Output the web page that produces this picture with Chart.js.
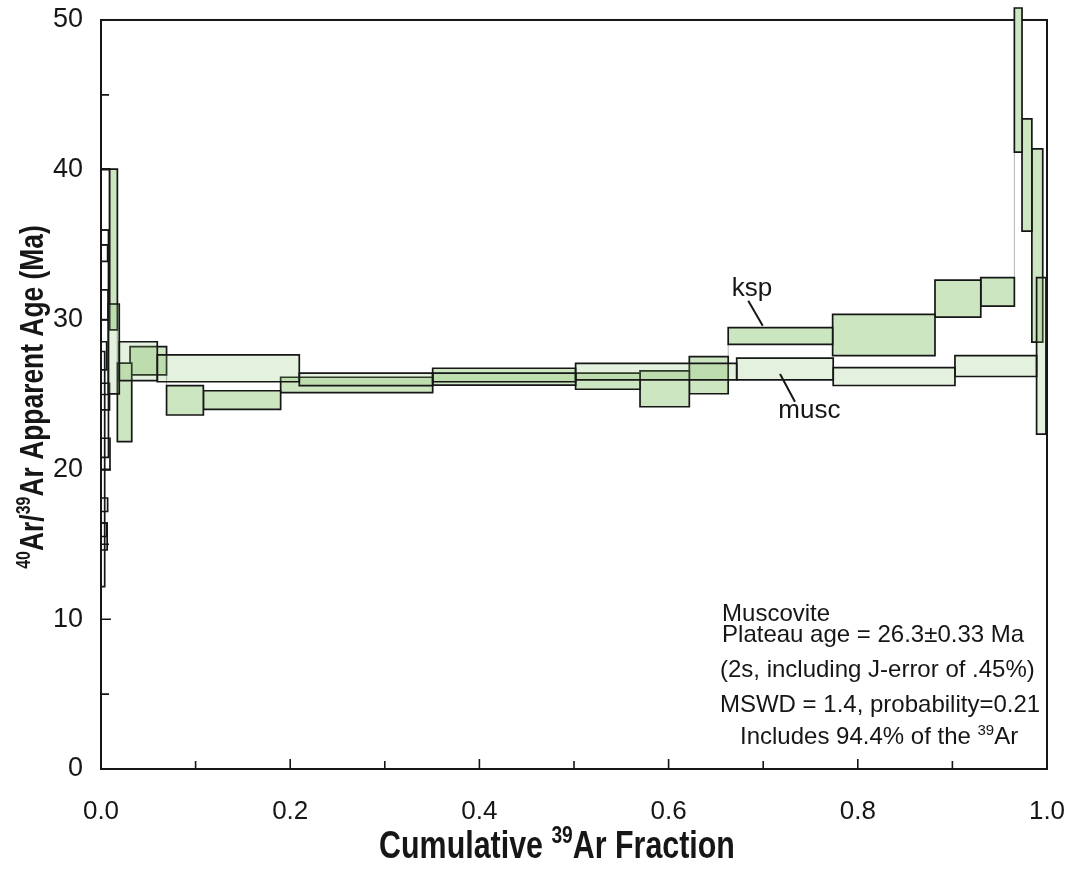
<!DOCTYPE html>
<html>
<head>
<meta charset="utf-8">
<title>40Ar/39Ar age spectra</title>
<script src="https://cdn.jsdelivr.net/npm/chart.js@4.4.1/dist/chart.umd.min.js"></script>
<style>
  html, body { margin: 0; padding: 0; background: #ffffff; }
  canvas { display: block; }
</style>
</head>
<body>
<canvas id="spectrum" width="1073" height="877"></canvas>
<script>
// ---- K-feldspar (ksp) heating steps: cumulative 39Ar fraction, apparent age and 2s error (Ma)
const kspStart = [0.0092, 0.0173, 0.0307, 0.0693, 0.1082, 0.1899, 0.3506, 0.5017, 0.5698, 0.6219, 0.6630, 0.7734, 0.8816, 0.9300, 0.9655, 0.9736, 0.9840];
const kspEnd   = [0.0173, 0.0325, 0.0693, 0.1082, 0.1899, 0.3506, 0.5017, 0.5698, 0.6219, 0.6630, 0.7734, 0.8816, 0.9300, 0.9655, 0.9736, 0.9840, 0.9955];
const kspAge   = [34.68, 24.48, 27.25, 24.61, 24.63, 25.64, 26.19, 25.89, 25.38, 26.29, 28.91, 28.97, 31.40, 31.85, 45.99, 39.65, 34.95];
const kspErr   = [5.37, 2.62, 0.94, 0.98, 0.62, 0.51, 0.56, 0.54, 1.20, 1.24, 0.56, 1.38, 1.24, 0.95, 4.81, 3.75, 6.45];

// ---- first low-gas ksp steps crowded against the origin (drawn unfilled)
const lowGasStart = [0, 0, 0, 0, 0, 0, 0, 0, 0, 0, 0];
const lowGasEnd   = [0.0091, 0.0079, 0.0039, 0.0070, 0.0075, 0.0060, 0.0090, 0.0095, 0.0070, 0.0065, 0.0060];
const lowGasAge   = [38.02, 28.39, 20.02, 34.43, 30.98, 27.58, 24.86, 21.02, 17.64, 15.52, 15.97];
const lowGasErr   = [2.04, 7.59, 7.85, 0.55, 1.00, 0.94, 0.89, 1.06, 0.45, 0.90, 0.45];

// ---- Muscovite (musc) heating steps
const muscStart = [0.0077, 0.0193, 0.0595, 0.2096, 0.3506, 0.5017, 0.6720, 0.7740, 0.9027, 0.9890];
const muscEnd   = [0.0193, 0.0595, 0.2096, 0.3506, 0.5017, 0.6720, 0.7740, 0.9027, 0.9890, 0.9989];
const muscAge   = [28.04, 27.22, 26.75, 26.01, 26.14, 26.53, 26.70, 26.20, 26.90, 27.58];
const muscErr   = [3.00, 1.30, 0.90, 0.42, 0.29, 0.55, 0.73, 0.60, 0.70, 5.22];

// ---- axes
const xTickValues = [0, 0.2, 0.4, 0.6, 0.8, 1.0];
const xTickLabels = ['0.0', '0.2', '0.4', '0.6', '0.8', '1.0'];
const xMinorTicks = [0.1, 0.2, 0.3, 0.4, 0.5, 0.6, 0.7, 0.8, 0.9];
const yTickLabels = ['0', '10', '20', '30', '40', '50'];
const yMinorTicks = [5, 10, 15, 20, 25, 30, 35, 40, 45];
const X_MAX = 1.0, Y_TOP = 50;

const FONT = '"Liberation Sans", Arial, Helvetica, sans-serif';
const INK = '#161616';
const KSP_FILL = '#cde6c2';
const MUSC_FILL = 'rgba(130, 192, 105, 0.22)';

// one closed rectangle per heating step: width = gas fraction, height = age +/- 2s
function stepBox(x0, x1, age, err) {
  const lo = age - err, hi = age + err;
  return [{x: x0, y: lo}, {x: x0, y: hi}, {x: x1, y: hi}, {x: x1, y: lo}, {x: x0, y: lo}];
}

function stepDatasets(start, end, age, err, fillColor, order) {
  return age.map((a, i) => ({
    data: stepBox(start[i], end[i], a, err[i]),
    borderColor: INK,
    borderWidth: 1.7,
    borderJoinStyle: 'miter',
    borderCapStyle: 'square',
    backgroundColor: fillColor || 'rgba(0,0,0,0)',
    fill: fillColor ? 'shape' : false,
    pointRadius: 0,
    tension: 0,
    clip: false,
    order: order
  }));
}

// thin vertical links between successive steps that do not overlap
function connectorPoints(end, age, err) {
  const pts = [];
  for (let i = 0; i < age.length - 1; i++) {
    const loA = age[i] - err[i], hiA = age[i] + err[i];
    const loB = age[i + 1] - err[i + 1], hiB = age[i + 1] + err[i + 1];
    const x = end[i];
    if (loB > hiA) pts.push({x, y: hiA}, {x, y: loB}, {x, y: null});
    else if (hiB < loA) pts.push({x, y: loA}, {x, y: hiB}, {x, y: null});
  }
  return pts;
}

const datasets = [
  ...stepDatasets(muscStart, muscEnd, muscAge, muscErr, MUSC_FILL, 1),
  ...stepDatasets(kspStart, kspEnd, kspAge, kspErr, KSP_FILL, 2),
  ...stepDatasets(lowGasStart, lowGasEnd, lowGasAge, lowGasErr, null, 3),
  {
    data: [...connectorPoints(kspEnd, kspAge, kspErr), ...connectorPoints(muscEnd, muscAge, muscErr)],
    borderColor: '#b4b4b4', borderWidth: 1, pointRadius: 0, fill: false,
    spanGaps: false, clip: false, order: 4
  }
];

// text with raised isotope mass numbers; parts = [[text, isSuperscript], ...]
// sx compresses the glyphs along the writing direction (condensed titles)
function drawRich(ctx, parts, x, y, size, weight, align, sx = 1) {
  const supSize = Math.round(size * 0.62);
  let w = 0;
  for (const [t, sup] of parts) {
    ctx.font = `${weight} ${sup ? supSize : size}px ${FONT}`;
    w += ctx.measureText(t).width;
  }
  ctx.save();
  ctx.translate(x, y);
  ctx.scale(sx, 1);
  let cx = align === 'center' ? -w / 2 : (align === 'right' ? -w : 0);
  ctx.textAlign = 'left';
  ctx.textBaseline = 'alphabetic';
  for (const [t, sup] of parts) {
    ctx.font = `${weight} ${sup ? supSize : size}px ${FONT}`;
    ctx.fillText(t, cx, sup ? -size * 0.4 : 0);
    cx += ctx.measureText(t).width;
  }
  ctx.restore();
}

// plot frame and inward tick marks, drawn underneath the steps
const framePlugin = {
  id: 'frame',
  beforeDatasetsDraw(chart) {
    const {ctx, scales: {x, y}} = chart;
    const l = x.getPixelForValue(0), r = x.getPixelForValue(X_MAX);
    const t = y.getPixelForValue(Y_TOP), b = y.getPixelForValue(0);
    ctx.save();
    ctx.strokeStyle = INK;
    ctx.lineWidth = 2;
    ctx.strokeRect(l, t, r - l, b - t);
    ctx.lineWidth = 1.6;
    ctx.beginPath();
    for (const v of xMinorTicks) {
      const px = x.getPixelForValue(v);
      const len = Math.abs(v * 5 - Math.round(v * 5)) < 1e-6 ? 10 : 8;
      ctx.moveTo(px, b); ctx.lineTo(px, b - len);
    }
    for (const v of yMinorTicks) {
      const py = y.getPixelForValue(v);
      const len = v % 10 === 0 ? 10 : 8;
      ctx.moveTo(l, py); ctx.lineTo(l + len, py);
    }
    ctx.stroke();
    ctx.restore();
  }
};

// axis titles, series labels and the plateau statistics
const textPlugin = {
  id: 'texts',
  afterDatasetsDraw(chart) {
    const {ctx, scales: {x, y}} = chart;
    const X = v => x.getPixelForValue(v), Y = v => y.getPixelForValue(v);
    ctx.save();
    ctx.fillStyle = INK;
    ctx.strokeStyle = INK;

    // series labels with leader lines
    ctx.lineWidth = 2;
    ctx.beginPath();
    ctx.moveTo(X(0.6842), Y(31.26)); ctx.lineTo(X(0.6995), Y(29.59));
    ctx.moveTo(X(0.7178), Y(26.37)); ctx.lineTo(X(0.7336), Y(24.52));
    ctx.stroke();
    ctx.font = `26px ${FONT}`;
    ctx.textAlign = 'left';
    ctx.textBaseline = 'alphabetic';
    ctx.fillText('ksp', X(0.6667), Y(31.6));
    ctx.fillText('musc', X(0.716), Y(23.46));

    // plateau statistics
    ctx.font = `24px ${FONT}`;
    ctx.fillText('Muscovite', X(0.6565), Y(9.91));
    ctx.fillText('Plateau age = 26.3\u00b10.33 Ma', X(0.6565), Y(8.48));
    ctx.fillText('(2s, including J-error of .45%)', X(0.6543), Y(6.14));
    ctx.fillText('MSWD = 1.4, probability=0.21', X(0.6543), Y(3.81));
    drawRich(ctx, [['Includes 94.4% of the ', false], ['39', true], ['Ar', false]], X(0.6755), Y(1.64), 24, 'normal', 'left');
    ctx.restore();
  },
  afterDraw(chart) {
    const {ctx} = chart;
    ctx.save();
    ctx.fillStyle = INK;
    drawRich(ctx, [['Cumulative ', false], ['39', true], ['Ar Fraction', false]], 557, 858, 38, 'bold', 'center', 0.8);
    ctx.translate(43, 397);
    ctx.rotate(-Math.PI / 2);
    drawRich(ctx, [['40', true], ['Ar/', false], ['39', true], ['Ar Apparent Age (Ma)', false]], 0, 0, 33, 'bold', 'center', 0.8);
    ctx.restore();
  }
};

new Chart(document.getElementById('spectrum'), {
  type: 'line',
  data: { datasets },
  options: {
    responsive: false,
    animation: false,
    events: [],
    layout: { padding: { top: 5, right: 26, left: 0, bottom: 0 } },
    plugins: { legend: { display: false }, tooltip: { enabled: false } },
    scales: {
      x: {
        type: 'linear', min: 0, max: X_MAX,
        grid: { display: false, drawTicks: false },
        border: { display: false },
        afterBuildTicks: s => { s.ticks = xTickValues.map(v => ({ value: v })); },
        ticks: {
          autoSkip: false, maxRotation: 0, padding: 27, color: INK,
          font: { family: FONT, size: 26 },
          callback: (v, i) => xTickLabels[i]
        },
        afterFit: s => { s.height = 108; s.paddingLeft = 0; s.paddingRight = 0; }
      },
      y: {
        type: 'linear', min: 0, max: 51,
        grid: { display: false, drawTicks: false },
        border: { display: false },
        afterBuildTicks: s => { s.ticks = yTickLabels.map(t => ({ value: Number(t) })); },
        ticks: {
          padding: 18, color: INK,
          font: { family: FONT, size: 27 },
          callback: (v, i) => yTickLabels[i]
        },
        afterFit: s => { s.width = 101; s.paddingTop = 0; s.paddingBottom = 0; }
      }
    }
  },
  plugins: [framePlugin, textPlugin]
});
</script>
</body>
</html>
